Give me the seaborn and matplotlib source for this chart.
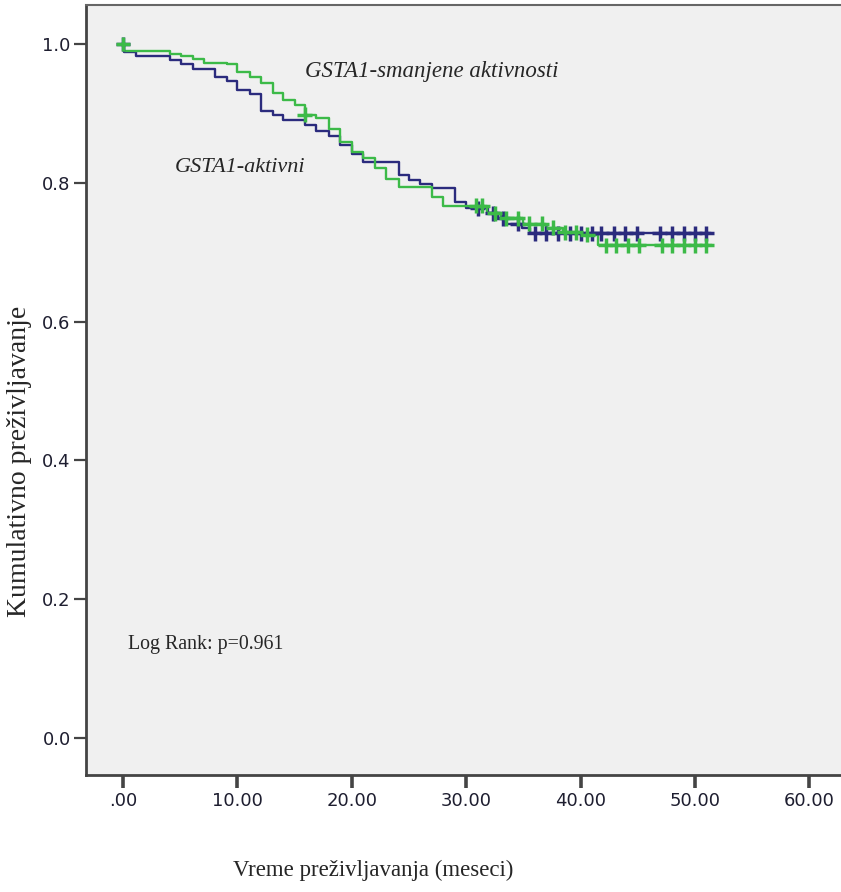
import numpy as np
import pandas as pd
import matplotlib
matplotlib.use("Agg")
import matplotlib.pyplot as plt
import seaborn as sns

# ---- data ----
blue_name = "GSTA1-aktivni"
green_name = "GSTA1-smanjene aktivnosti"

blue_t = [0.0, 0.1, 1.1, 4.1, 5.1, 6.1, 8.0, 9.1, 10.0, 11.1, 12.1, 13.1, 14.0, 15.9, 16.9, 18.0,
          19.0, 20.0, 21.0, 24.1, 25.0, 26.0, 27.0, 29.0, 30.0, 31.9, 32.8, 33.5, 34.9, 35.6, 51.4]
blue_s = [1.0, 0.988, 0.983, 0.977, 0.971, 0.964, 0.953, 0.946, 0.934, 0.928, 0.903, 0.898, 0.890,
          0.883, 0.874, 0.867, 0.854, 0.842, 0.830, 0.811, 0.804, 0.798, 0.792, 0.773, 0.763, 0.756,
          0.749, 0.741, 0.735, 0.727, 0.727]
blue_cens = [0.0, 31.0, 32.3, 33.2, 34.5, 36.0, 37.0, 38.0, 39.1, 40.0, 41.0, 41.8, 42.9, 43.9,
             44.9, 46.9, 48.0, 49.0, 50.0, 51.0]

green_t = [0.0, 0.1, 4.1, 5.1, 6.1, 7.1, 9.1, 10.0, 11.1, 12.1, 13.1, 14.0, 15.0, 15.9, 16.9, 18.0,
           19.0, 20.0, 21.0, 22.0, 23.0, 24.1, 27.0, 28.0, 31.8, 33.0, 35.0, 37.0, 38.5, 40.0, 41.5, 51.5]
green_s = [1.0, 0.990, 0.986, 0.983, 0.979, 0.973, 0.971, 0.960, 0.953, 0.944, 0.929, 0.919, 0.912,
           0.898, 0.893, 0.878, 0.859, 0.845, 0.836, 0.821, 0.806, 0.794, 0.780, 0.767, 0.756, 0.749,
           0.741, 0.735, 0.729, 0.725, 0.710, 0.710]
green_cens = [0.0, 15.9, 30.9, 31.4, 32.5, 33.5, 34.5, 35.5, 36.6, 37.6, 38.6, 39.6, 40.6,
              42.2, 43.1, 44.1, 45.1, 47.1, 48.0, 49.0, 50.0, 51.0]

xticks = [0, 10, 20, 30, 40, 50, 60]
xtick_labels = [".00", "10.00", "20.00", "30.00", "40.00", "50.00", "60.00"]
yticks = [0.0, 0.2, 0.4, 0.6, 0.8, 1.0]
ytick_labels = ["0.0", "0.2", "0.4", "0.6", "0.8", "1.0"]

blue_c = "#2b2b7d"
green_c = "#3cba48"

# ---- frames ----
curves = pd.concat([
    pd.DataFrame({"t": blue_t, "s": blue_s, "g": blue_name}),
    pd.DataFrame({"t": green_t, "s": green_s, "g": green_name}),
], ignore_index=True)


def surv_at(ts, ss, c):
    idx = np.searchsorted(np.array(ts), np.array(c), side="right") - 1
    return np.array(ss)[idx]


cens = pd.concat([
    pd.DataFrame({"t": blue_cens, "s": surv_at(blue_t, blue_s, blue_cens), "g": blue_name}),
    pd.DataFrame({"t": green_cens, "s": surv_at(green_t, green_s, green_cens), "g": green_name}),
], ignore_index=True)

sns.set_style("white")
plt.rcParams["font.family"] = ["DejaVu Sans"]

W, H = 841, 892
fig = plt.figure(figsize=(W / 100, H / 100), dpi=100)
ax = fig.add_axes([86 / W, (H - 775) / H, (W - 86) / W, (775 - 5) / H])
ax.set_facecolor("#f0f0f0")

pal = {blue_name: blue_c, green_name: green_c}
sns.lineplot(data=curves, x="t", y="s", hue="g", palette=pal, drawstyle="steps-post",
             estimator=None, sort=False, legend=False, linewidth=1.7, ax=ax)
sns.scatterplot(data=cens, x="t", y="s", hue="g", palette=pal, marker="+", s=115,
                linewidth=2.5, legend=False, ax=ax, zorder=4)

# x: 0 at px 123, 11.44 px per unit ; y: 0 at px 738, 1 at px 44
ax.set_xlim((86 - 123) / 11.44, (841 - 123) / 11.44)
ax.set_ylim((738 - 775) / 694, (738 - 5) / 694)

ax.set_xticks(xticks)
ax.set_xticklabels(xtick_labels)
ax.set_yticks(yticks)
ax.set_yticklabels(ytick_labels)
ax.tick_params(axis="both", which="major", bottom=True, left=True, direction="out",
               color="#444444", labelsize=13, labelcolor="#1e1e30")
ax.tick_params(axis="x", length=9, width=2.6, pad=3)
ax.tick_params(axis="y", length=9, width=1.6, pad=2)

for side in ["left", "bottom"]:
    ax.spines[side].set_linewidth(2)
    ax.spines[side].set_color("#444444")
ax.spines["top"].set_linewidth(1.5)
ax.spines["top"].set_color("#666666")
ax.spines["right"].set_visible(False)

serif = ["Liberation Serif", "DejaVu Serif"]
ax.set_xlabel("Vreme preživljavanja (meseci)", fontsize=16.5, family=serif)
ax.xaxis.set_label_coords((373 - 86) / (W - 86), (775 - 870) / (775 - 5))
ax.xaxis.label.set_va("center")
ax.set_ylabel("Kumulativno preživljavanje", fontsize=20, family=serif)
ax.yaxis.set_label_coords((20 - 86) / (W - 86), (775 - 461) / (775 - 5))
ax.yaxis.label.set_va("center")

ax.text((305 - 123) / 11.44, (738 - 72) / 694, green_name, fontsize=16.5, style="italic",
        family=serif, va="center", ha="left")
ax.text((175 - 123) / 11.44, (738 - 168) / 694, blue_name, fontsize=16, style="italic",
        family=serif, va="center", ha="left")
ax.text((128 - 123) / 11.44, (738 - 645) / 694, "Log Rank: p=0.961", fontsize=14.3,
        family=serif, va="center", ha="left")

fig.savefig("out.png", dpi=100)
